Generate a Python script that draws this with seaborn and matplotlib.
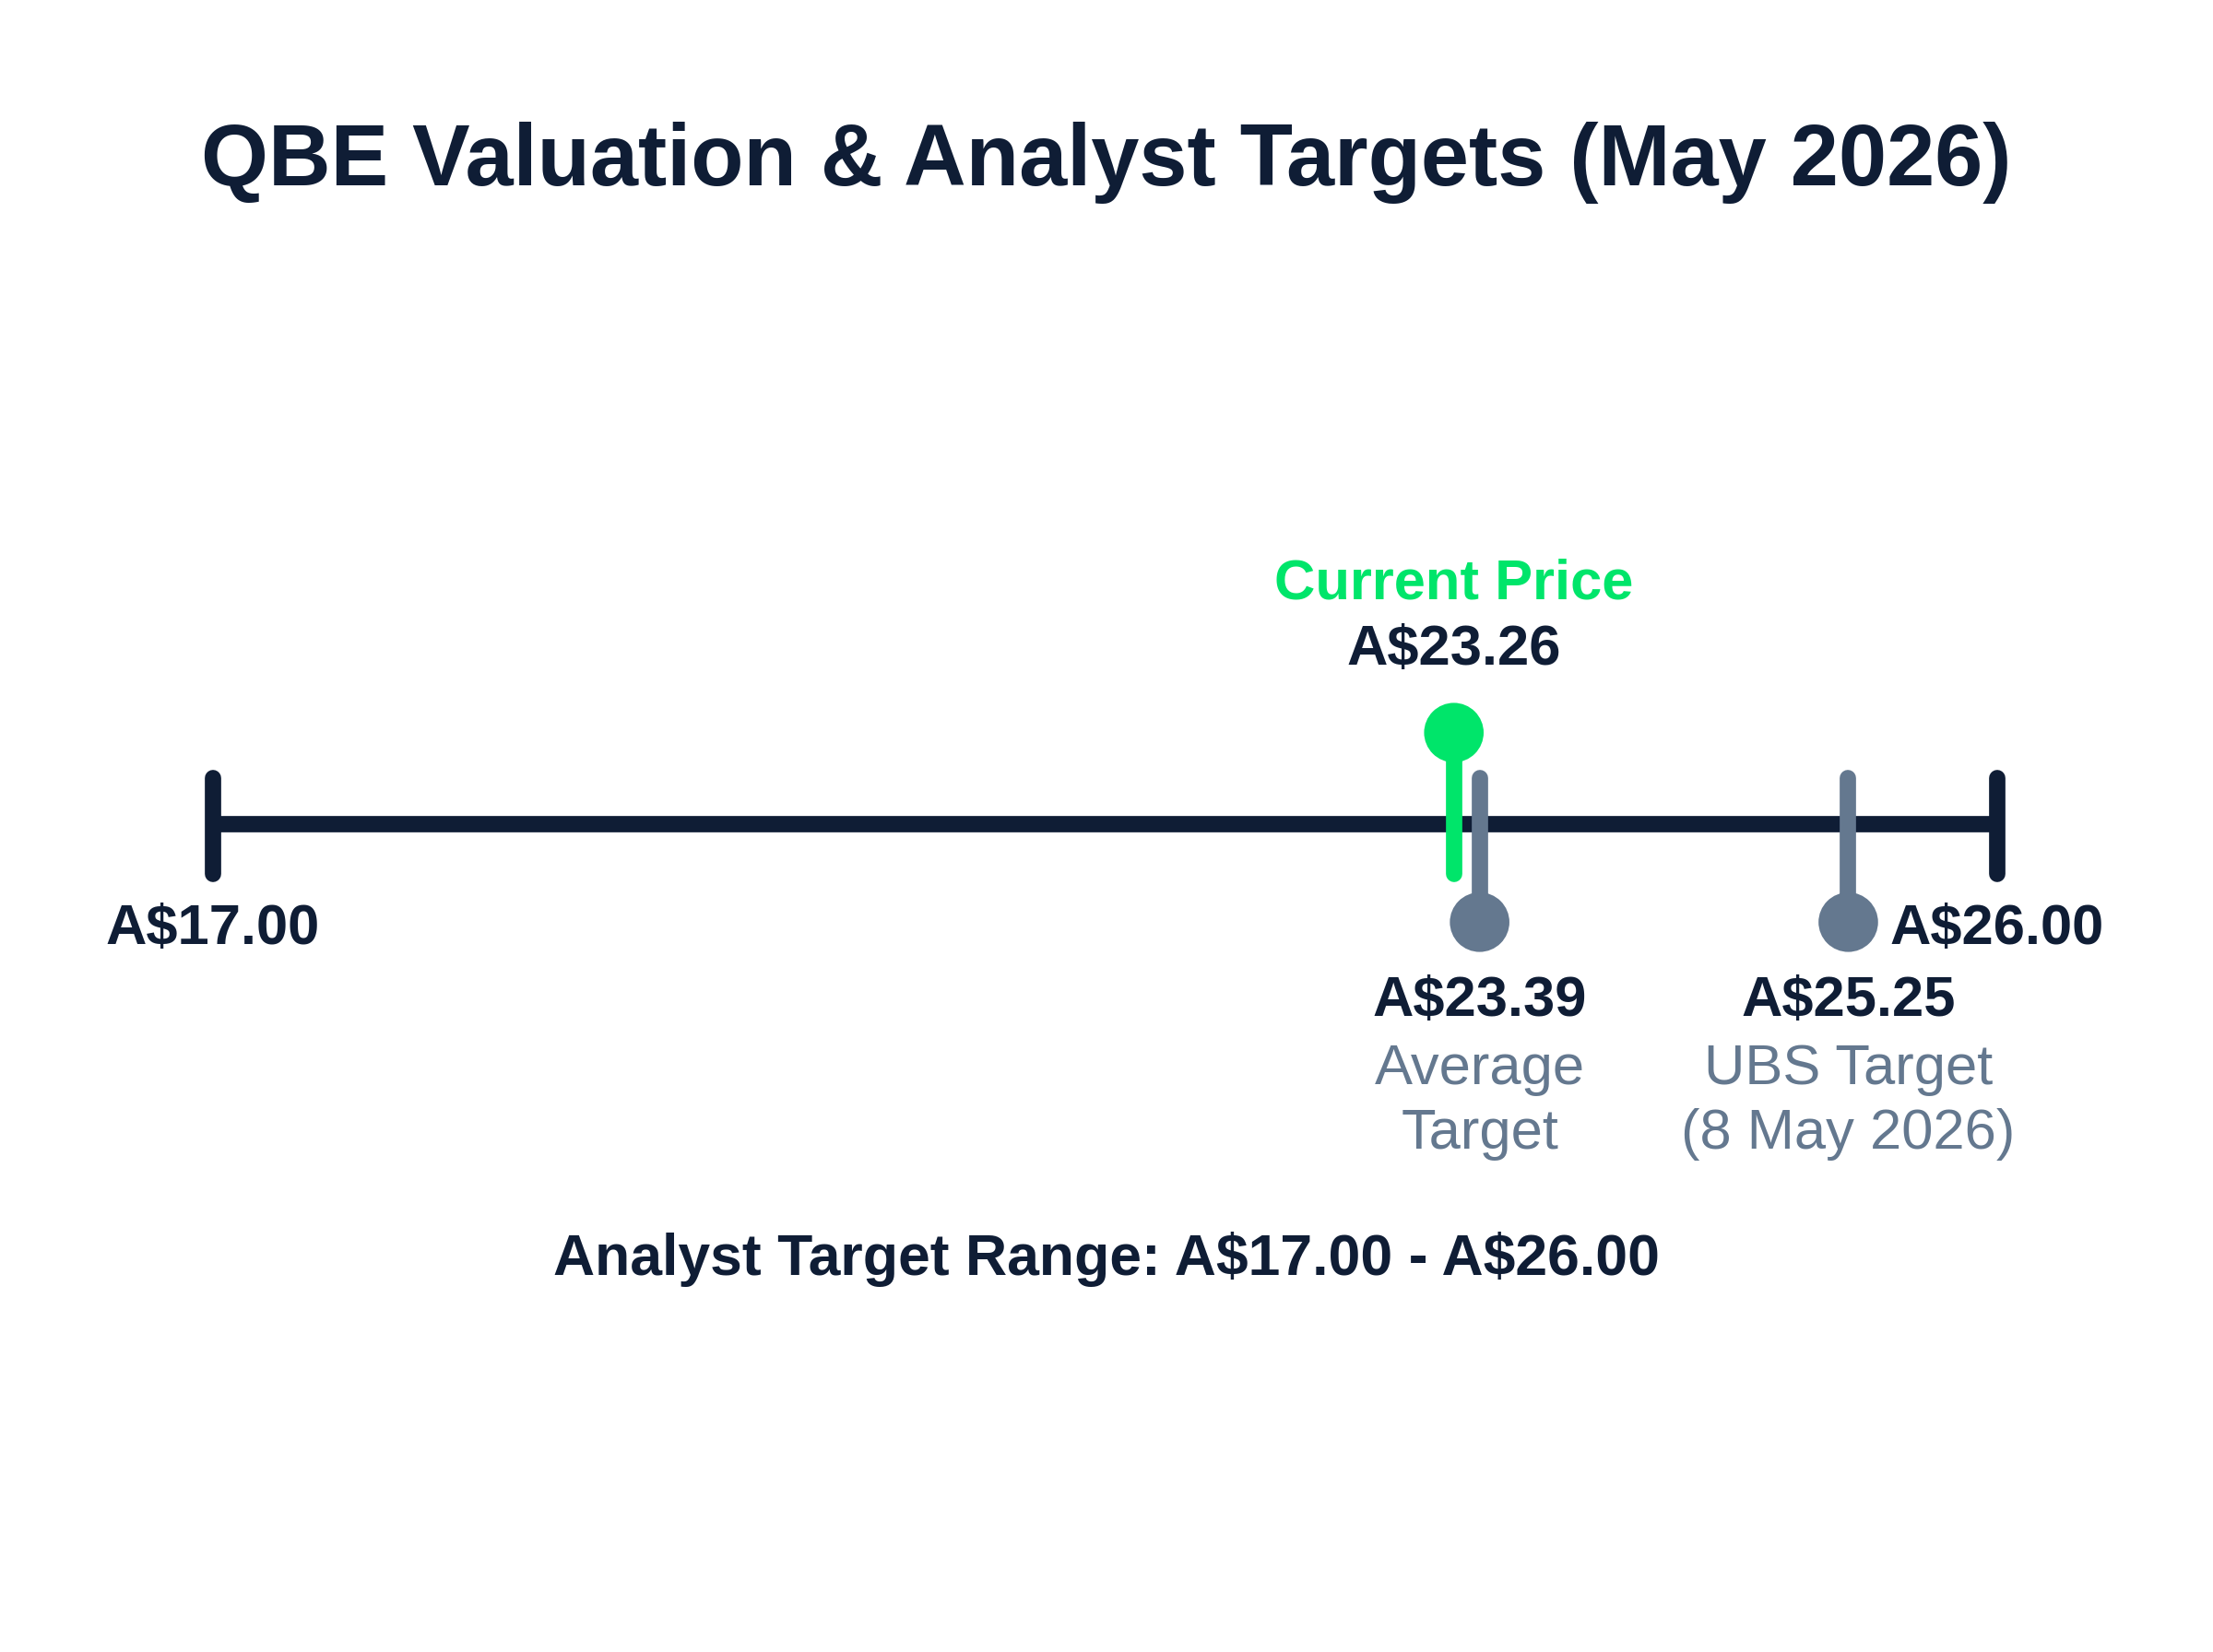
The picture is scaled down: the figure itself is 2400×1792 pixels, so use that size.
import matplotlib
matplotlib.use("Agg")
import matplotlib.pyplot as plt
import seaborn as sns
import pandas as pd

sns.set_theme(style="white")
plt.rcParams['font.family'] = ['Liberation Sans', 'DejaVu Sans']
plt.rcParams['text.parse_math'] = False

range_low = 17.00
range_high = 26.00
current_price = 23.26
target_values = [23.39, 25.25]
target_labels = ["Average\nTarget", "UBS Target\n(8 May 2026)"]

DARK = "#0f1d35"
GREEN = "#00e56a"
GRAY = "#64788f"

fig = plt.figure(figsize=(16, 11.947), dpi=150)
ax = fig.add_axes([0, 0, 1, 1])
ax.set_xlim(15.925, 27.09)
ax.set_ylim(1168, 0)
ax.axis("off")

lw = 8.5
ax.plot([range_low, range_high], [583, 583], color=DARK, lw=lw, solid_capstyle="butt", zorder=2)
for v in (range_low, range_high):
    ax.plot([v, v], [550, 618], color=DARK, lw=lw, solid_capstyle="round", zorder=2)
    ax.text(v, 657, f"A${v:.2f}", ha="center", va="center", fontsize=29.5, fontweight="bold", color=DARK)

# current price
ax.plot([current_price, current_price], [520, 618], color=GREEN, lw=lw, solid_capstyle="round", zorder=3)
sns.scatterplot(x=[current_price], y=[518], color=GREEN, s=31**2, edgecolor="none", ax=ax, zorder=4)
ax.text(current_price, 413, "Current Price", ha="center", va="center", fontsize=29.5, fontweight="bold", color=GREEN)
ax.text(current_price, 460, f"A${current_price:.2f}", ha="center", va="center", fontsize=29.5, fontweight="bold", color=DARK)

# targets
df = pd.DataFrame({"x": target_values, "y": [652] * len(target_values)})
for v, lab in zip(target_values, target_labels):
    ax.plot([v, v], [550, 650], color=GRAY, lw=lw, solid_capstyle="round", zorder=3)
    ax.text(v, 708, f"A${v:.2f}", ha="center", va="center", fontsize=29.5, fontweight="bold", color=DARK)
    ax.text(v, 779, lab, ha="center", va="center", fontsize=29.5, color=GRAY, linespacing=1.3)
sns.scatterplot(data=df, x="x", y="y", color=GRAY, s=31**2, edgecolor="none", ax=ax, zorder=4)

ax.text(0.5, 115, "QBE Valuation & Analyst Targets (May 2026)", transform=ax.get_yaxis_transform(),
        ha="center", va="center", fontsize=45, fontweight="bold", color=DARK)
ax.text(0.5, 890, f"Analyst Target Range: A${range_low:.2f} - A${range_high:.2f}", transform=ax.get_yaxis_transform(),
        ha="center", va="center", fontsize=30, fontweight="bold", color=DARK)

fig.savefig("out.png", dpi=150, facecolor="white")
